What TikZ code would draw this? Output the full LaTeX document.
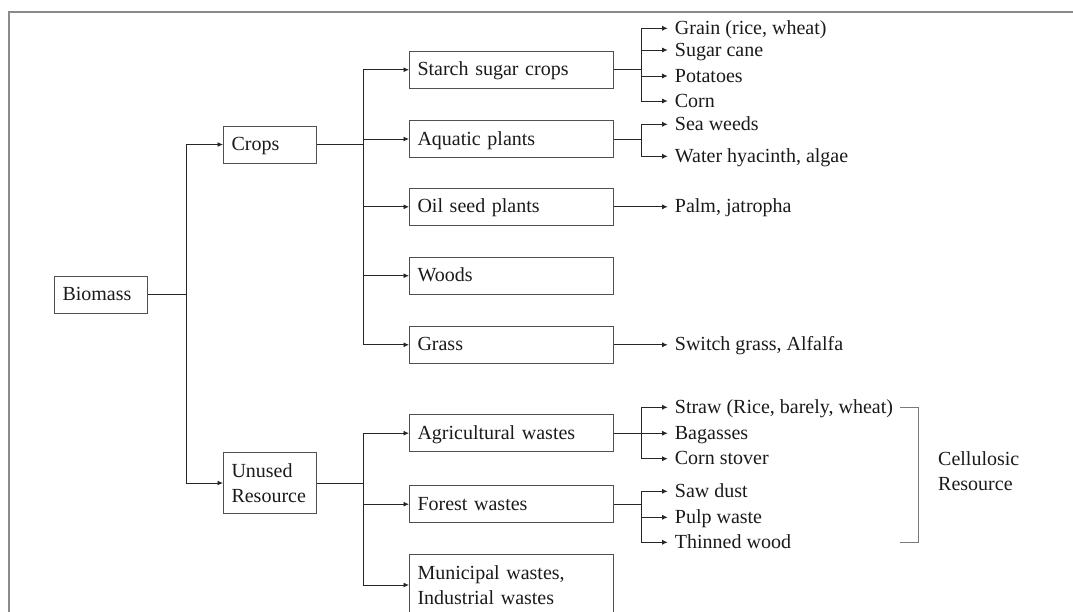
\documentclass[tikz,border=0pt]{standalone}
\usepackage{fontspec}
\setmainfont{Liberation Serif}
\usepackage{xcolor}
\usetikzlibrary{calc,arrows.meta}
\definecolor{frame_gray}{HTML}{8A8A8A}
\definecolor{box_gray}{HTML}{505050}
\definecolor{bracket_gray}{HTML}{7A7A7A}
\definecolor{text_dark}{HTML}{1A1A1A}

\tikzset{
  boxbase/.style={draw=box_gray, line width=1pt, rectangle, anchor=west, inner xsep=8pt, align=left},
  boxa/.style={boxbase, text width=77pt, minimum height=37pt, text height=15pt, text depth=3pt},
  boxa2/.style={boxbase, text width=77pt, minimum height=61.4pt},
  boxb/.style={boxbase, text width=187.7pt, minimum height=37.3pt, text height=15pt, text depth=3pt},
  boxb2/.style={boxbase, text width=187.7pt, minimum height=61.4pt},
  leaf/.style={anchor=west, inner xsep=7pt, inner ysep=0pt, text height=15pt, text depth=3pt},
  conn/.style={black!85, line width=0.9pt},
  bracket/.style={bracket_gray, line width=1pt}
}

\begin{document}
\begin{tikzpicture}[x=1pt,y=-1pt,>={Latex[length=5.5pt,width=5pt]},font=\fontsize{20}{24.3}\selectfont,text=text_dark]

        % Zone visible et cadre
        \useasboundingbox (0,0) rectangle (1073,611);
        \clip (0,0) rectangle (1073,611);
        \draw[frame_gray, line width=1.5pt] (9,620) -- (9,12) -- (1080,12);

        % Premier et deuxieme niveaux
        \node[boxa] (biomass) at (54,294.5) {Biomass};
        \node[boxa] (crops) at (223,144.5) {Crops};
        \node[boxa2] (unused) at (223,483) {Unused\\Resource};

        % Troisieme niveau
        \node[boxb] (starch) at (409,69.7) {Starch sugar crops};
        \node[boxb] (aquatic) at (409,139) {Aquatic plants};
        \node[boxb] (oil) at (409,206.8) {Oil seed plants};
        \node[boxb] (woods) at (409,275.7) {Woods};
        \node[boxb] (grass) at (409,344.8) {Grass};
        \node[boxb] (agri) at (409,433.2) {Agricultural wastes};
        \node[boxb] (forest) at (409,504.2) {Forest wastes};
        \node[boxb2] (municipal) at (409,585) {Municipal wastes,\\Industrial wastes};

        % Exemples (feuilles)
        \node[leaf] (grain) at (667.7,28.3) {Grain (rice, wheat)};
        \node[leaf] (sugar) at (667.7,50) {Sugar cane};
        \node[leaf] (potatoes) at (667.7,76) {Potatoes};
        \node[leaf] (corn) at (667.7,101) {Corn};
        \node[leaf] (seaweeds) at (667.7,124.3) {Sea weeds};
        \node[leaf] (hyacinth) at (667.7,156.3) {Water hyacinth, algae};
        \node[leaf] (palm) at (667.7,206.8) {Palm, jatropha};
        \node[leaf] (switch) at (667.7,344.8) {Switch grass, Alfalfa};
        \node[leaf] (straw) at (667.7,407.3) {Straw (Rice, barely, wheat)};
        \node[leaf] (bagasses) at (667.7,433.2) {Bagasses};
        \node[leaf] (stover) at (667.7,458.7) {Corn stover};
        \node[leaf] (sawdust) at (667.7,491.3) {Saw dust};
        \node[leaf] (pulp) at (667.7,517.3) {Pulp waste};
        \node[leaf] (thinned) at (667.7,542.3) {Thinned wood};

        % Points de branchement
        \coordinate (biomassj) at ($(biomass.east)+(38.3,0)$);
        \coordinate (cropsj) at ($(crops.east)+(46.7,0)$);
        \coordinate (unusedj) at ($(unused.east)+(46.7,0)$);
        \coordinate (starchj) at ($(starch.east)+(27.6,0)$);
        \coordinate (aquaticj) at ($(aquatic.east)+(27.6,0)$);
        \coordinate (agrij) at ($(agri.east)+(27.6,0)$);
        \coordinate (forestj) at ($(forest.east)+(27.6,0)$);

        % Biomass vers Crops et Unused Resource
        \draw[conn] (biomass.east) -- (biomassj);
        \draw[conn,->] (biomassj) |- (crops.west);
        \draw[conn,->] (biomassj) |- (unused.west);

        % Crops vers ses categories
        \draw[conn] (crops.east) -- (cropsj);
        \draw[conn,->] (cropsj) |- (starch.west);
        \draw[conn,->] (cropsj) |- (aquatic.west);
        \draw[conn,->] (cropsj) |- (oil.west);
        \draw[conn,->] (cropsj) |- (woods.west);
        \draw[conn,->] (cropsj) |- (grass.west);

        % Unused Resource vers ses categories
        \draw[conn] (unused.east) -- (unusedj);
        \draw[conn,->] (unusedj) |- (agri.west);
        \draw[conn,->] (unusedj) |- (forest.west);
        \draw[conn,->] (unusedj) |- (municipal.west);

        % Categories vers exemples
        \draw[conn] (starch.east) -- (starchj);
        \draw[conn,->] (starchj) |- (grain.west);
        \draw[conn,->] (starchj) |- (sugar.west);
        \draw[conn,->] (starchj) |- (potatoes.west);
        \draw[conn,->] (starchj) |- (corn.west);
        \draw[conn] (aquatic.east) -- (aquaticj);
        \draw[conn,->] (aquaticj) |- (seaweeds.west);
        \draw[conn,->] (aquaticj) |- (hyacinth.west);
        \draw[conn,->] (oil.east) -- (palm.west);
        \draw[conn,->] (grass.east) -- (switch.west);
        \draw[conn] (agri.east) -- (agrij);
        \draw[conn,->] (agrij) |- (straw.west);
        \draw[conn,->] (agrij) |- (bagasses.west);
        \draw[conn,->] (agrij) |- (stover.west);
        \draw[conn] (forest.east) -- (forestj);
        \draw[conn,->] (forestj) |- (sawdust.west);
        \draw[conn,->] (forestj) |- (pulp.west);
        \draw[conn,->] (forestj) |- (thinned.west);

        % Accolade des ressources cellulosiques
        \draw[bracket] (straw.east) -- ++(18,0) coordinate (bracketr) -- (bracketr |- thinned.east) -- ++(-18,0);
        \node[anchor=west, inner sep=0pt, align=left] (cellulosic) at (938,471) {Cellulosic\\Resource};
    \end{tikzpicture}
\end{document}
